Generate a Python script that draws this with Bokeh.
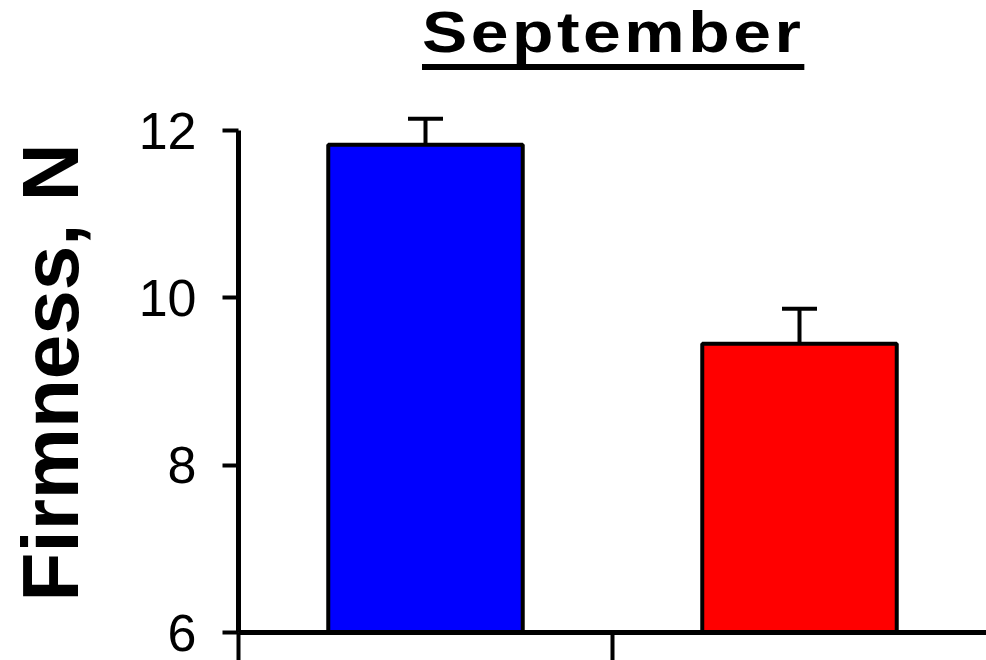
from bokeh.plotting import figure
from bokeh.models import (ColumnDataSource, FixedTicker, Range1d, Whisker, TeeHead, Div)
from bokeh.layouts import column
from bokeh.embed import file_html
from bokeh.resources import INLINE

# ---- data ----
title_text = "September"
groups = ["Group 1", "Group 2"]
means = [11.83, 9.45]
errors = [0.31, 0.42]
colors = ["#0000FF", "#FF0000"]
y_ticks = [6, 8, 10, 12]
y_label = "Firmness, N"

xpos = [i + 0.5 for i in range(len(groups))]
src = ColumnDataSource(dict(
    x=xpos, top=means, upper=[m + e for m, e in zip(means, errors)],
    color=colors, name=groups))

FONT = "Liberation Sans"

div = Div(
    text=('<div style="margin:0;padding:3px 0 0 422px;white-space:nowrap;">'
          '<span style="display:inline-block;transform:scaleX(1.17);transform-origin:0 0;'
          'font-family:\'Liberation Sans\',Arial,sans-serif;font-weight:bold;font-size:58px;'
          'line-height:58px;letter-spacing:3px;color:#000;'
          'text-decoration:underline;text-decoration-thickness:6px;text-underline-offset:12px;'
          'text-decoration-skip-ink:none;">' + title_text + '</span></div>'),
    width=986, height=80, margin=(0, 0, 0, 0))

p = figure(frame_width=748, frame_height=520, output_backend="svg", toolbar_location=None,
           x_range=Range1d(0, len(groups)), y_range=Range1d(6, 6 + 520 / (502 / 6)),
           min_border_left=238, min_border_right=0, min_border_top=32, min_border_bottom=28,
           margin=(0, 0, 0, 0))
p.outline_line_color = None
p.xgrid.visible = False
p.ygrid.visible = False
p.background_fill_color = "white"
p.border_fill_color = "white"

wh = Whisker(source=src, base="x", upper="upper", lower="top",
             line_color="black", line_width=4,
             upper_head=TeeHead(size=35, line_color="black", line_width=4),
             lower_head=None)
p.add_layout(wh)

p.vbar(x="x", top="top", bottom=6, width=0.52, source=src,
       fill_color="color", line_color="black", line_width=4)

# y axis
ya = p.yaxis[0]
ya.ticker = FixedTicker(ticks=y_ticks)
ya.bounds = (6, 12)
ya.axis_line_width = 5
ya.major_tick_line_width = 4
ya.major_tick_in = 0
ya.major_tick_out = 16
ya.minor_tick_line_color = None
ya.major_label_text_font = FONT
ya.major_label_text_font_size = "52px"
ya.major_label_text_color = "black"
ya.major_label_standoff = 26
ya.axis_label = y_label
ya.axis_label_text_font = FONT
ya.axis_label_text_font_style = "bold"
ya.axis_label_text_font_size = "80px"
ya.axis_label_text_color = "black"
ya.axis_label_standoff = 41

# x axis (no tick labels in the reference)
xa = p.xaxis[0]
xa.ticker = FixedTicker(ticks=[0, 1])
xa.bounds = (0, len(groups))
xa.axis_line_width = 5
xa.major_tick_line_width = 4
xa.major_tick_in = 0
xa.major_tick_out = 28
xa.minor_tick_line_color = None
xa.major_label_text_color = None
xa.major_label_overrides = {0: "", 1: ""}
xa.major_label_standoff = 0

layout = column(div, p, spacing=0, margin=(0, 0, 0, 0))

open("out.html", "w").write(file_html(layout, INLINE))
